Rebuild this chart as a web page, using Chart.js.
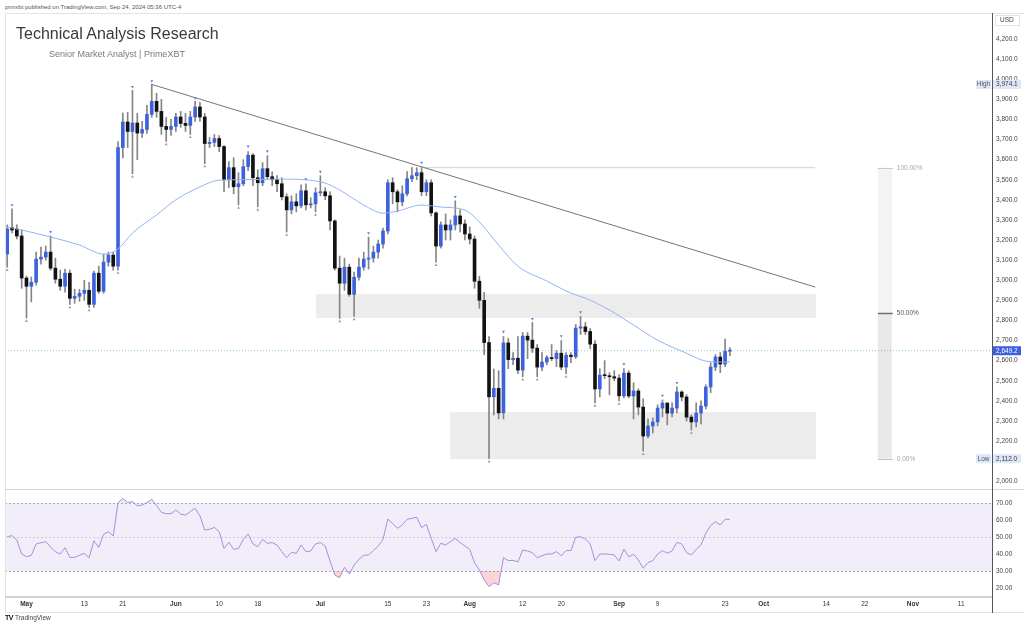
<!DOCTYPE html>
<html><head><meta charset="utf-8">
<script src="https://cdn.jsdelivr.net/npm/chart.js@4.4.1/dist/chart.umd.min.js"></script>
<style>
html,body{margin:0;padding:0;background:#fff;}
body{width:1024px;height:626px;position:relative;overflow:hidden;font-family:"Liberation Sans",Arial,sans-serif;}
.abs{position:absolute;white-space:nowrap;line-height:1;}
#pub{left:5px;top:4px;font-size:6px;color:#555;}
#title{left:16px;top:26px;font-size:16px;color:#3a3a3a;}
#sub{left:49px;top:50px;font-size:9px;color:#7a7a7a;}
#tv{left:5px;top:614px;font-size:6.5px;color:#444;}
#tv b{font-size:7px;color:#111;letter-spacing:-0.5px;margin-right:2px;}
.ln{position:absolute;background:#e0e3eb;}
canvas{position:absolute;}
</style></head>
<body>
<div class="abs" id="pub">prmxbt published on TradingView.com, Sep 24, 2024 05:36 UTC-4</div>
<canvas id="pc" width="1019" height="476" style="left:5px;top:13px"></canvas>
<canvas id="rc" width="1019" height="123" style="left:5px;top:490px"></canvas>
<div class="ln" style="left:5px;top:13px;width:1019px;height:1px"></div>
<div class="ln" style="left:5px;top:13px;width:1px;height:600px"></div>
<div class="ln" style="left:5px;top:489px;width:1019px;height:1px;background:#d6d6d6"></div>
<div class="ln" style="left:5px;top:596px;width:987px;height:2px;background:#cfd1d6"></div>
<div class="ln" style="left:5px;top:612px;width:1019px;height:1px"></div>
<div class="ln" style="left:992px;top:13px;width:1px;height:600px;background:#555"></div>
<div class="abs" id="title">Technical Analysis Research</div>
<div class="abs" id="sub">Senior Market Analyst | PrimeXBT</div>
<div class="abs" id="tv"><b>TV</b>TradingView</div>
<script>
// ---- data (day index: 0 = 26 Apr 2024; first candle = 27 Apr) ----
const firstIdx = 1;
const openV  = [3130,3262,3255,3220,3011,2970,2990,3105,3115,3140,3060,3005,2970,3035,2910,2920,2935,2950,2880,3035,2945,3090,3125,3070,3660,3787,3740,3782,3732,3750,3825,3890,3840,3765,3750,3765,3812,3780,3770,3812,3862,3812,3680,3686,3705,3665,3500,3560,3465,3480,3565,3622,3510,3485,3555,3515,3500,3480,3415,3350,3390,3370,3445,3375,3380,3435,3440,3420,3295,3060,2985,3065,2930,3015,3065,3105,3110,3140,3180,3245,3485,3440,3390,3430,3505,3520,3535,3440,3485,3335,3170,3275,3250,3275,3320,3280,3230,3205,2995,2900,2690,2420,2462,2340,2688,2605,2612,2553,2722,2702,2662,2568,2593,2615,2610,2637,2568,2627,2620,2762,2768,2745,2682,2459,2528,2525,2520,2513,2425,2538,2424,2449,2369,2225,2275,2295,2364,2389,2339,2364,2444,2419,2319,2295,2339,2374,2469,2568,2618,2583,2647];
const highV  = [3275,3355,3275,3250,3020,3016,3140,3165,3170,3220,3110,3050,3055,3050,2955,2955,3000,2990,3045,3070,3130,3140,3140,3690,3832,3835,3945,3830,3790,3870,3974.1,3930,3900,3810,3800,3830,3840,3830,3840,3890,3885,3830,3710,3725,3720,3670,3590,3610,3535,3600,3640,3630,3550,3585,3620,3540,3520,3510,3430,3420,3430,3475,3480,3410,3460,3520,3460,3440,3300,3120,3110,3080,3040,3110,3140,3215,3170,3200,3260,3500,3510,3450,3470,3540,3560,3560,3565,3500,3500,3340,3290,3330,3300,3395,3350,3300,3265,3220,3020,2940,2720,2558,2550,2720,2710,2640,2720,2740,2740,2790,2680,2640,2625,2680,2650,2700,2640,2640,2780,2820,2790,2760,2700,2560,2600,2540,2550,2530,2560,2550,2490,2460,2410,2310,2315,2380,2405,2390,2390,2470,2450,2430,2330,2390,2400,2480,2590,2630,2640,2707,2665];
const lowV   = [3065,3235,3205,2960,2812,2892,2975,3080,3100,3050,2985,2950,2940,2880,2885,2895,2900,2865,2865,2935,2935,3070,3050,3050,3608,3660,3530,3600,3710,3730,3810,3810,3725,3690,3720,3740,3760,3740,3725,3790,3790,3580,3660,3665,3640,3440,3460,3430,3375,3470,3545,3470,3365,3470,3500,3470,3440,3400,3240,3330,3340,3360,3350,3360,3340,3420,3400,3250,3050,2810,2950,2920,2820,3000,3050,3055,3090,3110,3160,3230,3380,3340,3370,3420,3490,3500,3420,3420,3320,3090,3160,3200,3200,3250,3240,3200,3180,2960,2860,2630,2112,2330,2310,2310,2560,2580,2535,2520,2610,2640,2520,2550,2580,2600,2570,2555,2535,2590,2610,2730,2730,2660,2390,2420,2510,2430,2500,2400,2415,2415,2310,2330,2150,2215,2240,2275,2320,2280,2320,2340,2400,2300,2255,2270,2285,2360,2440,2550,2540,2570,2625];
const closeV = [3255,3250,3220,3011,2970,2990,3105,3115,3140,3060,3005,2970,3035,2910,2920,2935,2950,2880,3035,2945,3090,3125,3070,3660,3787,3740,3782,3732,3750,3825,3890,3840,3765,3750,3765,3812,3780,3770,3812,3862,3812,3680,3686,3705,3665,3500,3560,3465,3480,3565,3622,3510,3485,3555,3515,3500,3480,3415,3350,3390,3370,3445,3375,3380,3435,3440,3420,3295,3060,2985,3065,2930,3015,3065,3105,3110,3140,3180,3245,3485,3440,3390,3430,3505,3520,3535,3440,3485,3335,3170,3275,3250,3275,3320,3280,3230,3205,2995,2900,2690,2420,2462,2340,2688,2605,2612,2553,2722,2702,2662,2568,2593,2615,2610,2637,2568,2627,2620,2762,2768,2745,2682,2459,2528,2525,2520,2513,2425,2538,2424,2449,2369,2225,2275,2295,2364,2389,2339,2364,2444,2419,2319,2295,2339,2374,2469,2568,2618,2583,2647,2649.2];
const rsiV = [50.2,50.8,48.2,40,38.4,39.2,45.9,46.6,47.3,44,41.4,40,43.7,38,38,39.2,40.4,37.8,47.8,43.9,51.6,53.1,50.6,70.2,72.7,70.4,70.8,68.4,68.8,70.2,72.2,68.4,64.5,63.7,63.7,65.9,63.5,62.9,64.9,66.9,62.5,54.1,54.5,55.7,53.1,43.3,46.9,42.7,43.3,48.6,51.8,45.9,44.3,48.6,46.3,46.7,45.3,41.4,37.8,41,40.4,45.3,41.4,41.8,45.9,46.7,44.7,35.9,27.6,26.1,32.2,28.2,33.5,36.9,39.2,39.4,42,44.7,48.6,60.6,58,55.1,57.1,60.4,61,61.6,55.5,57.5,49.2,41.4,46.3,45.3,47.3,49.2,46.7,44.7,42.7,34.9,30.6,24.7,20.8,23.1,21.8,37.8,36.1,36.3,35.3,42.4,41.8,40.8,37.8,39,40,40,41.4,39,42,42,49.8,50.2,48.8,45.9,36.1,40,40,39.8,39.4,35.9,42.9,38.4,39.8,36.5,31.6,34.9,36.1,40,42,40.4,41.8,46.9,45.9,40.8,39.4,42.7,45.3,52.2,56.7,59,57.1,60.4,60.4];
const maIdx = [1,4,10,16,21,24,27,32,36,41,45,49,58,67,70,75,79,82,87,91,96,99,103,107,113,118,121,126,131,136,142,146,150,151];
const maVal = [3265,3250,3215,3175,3130,3155,3235,3325,3400,3464,3498,3500,3503,3483,3449,3374,3334,3344,3374,3364,3349,3290,3175,3070,2996,2936,2911,2852,2777,2702,2637,2598,2593,2595];
const pivHighIdx = [2,10,27,31,40,51,55,63,66,76,87,94,104,110,116,120,129,137,140];
const pivHighVal = [3374,3241,3962,3991,3906,3666,3642,3503,3540,3235,3585,3415,2744,2808,2722,2842,2583,2426,2490];
const pivLowIdx = [1,5,14,18,24,27,34,39,42,49,53,59,65,70,73,90,101,108,111,117,123,128,133,143];
const pivLowVal = [3050,2797,2865,2850,3036,3515,3676,3712,3566,3360,3350,3225,3325,2795,2805,3075,2097,2505,2505,2520,2375,2385,2135,2240];
const trendIdx = [31,168.7];
const trendVal = [3974.1,2966];
const fibIdx = [86.7,168.7];      // 100% level drawn line
const fibLevels = [3560,2836,2112]; // 100%, 50%, 0%
const fibLabels = ['100.00%','50.00%','0.00%'];
const fibBarIdx = [181.7,184.6];
const zones = [[65.1,168.9,2812,2931],[92.9,168.9,2110,2344]];
const lastPrice = 2649.2, highPrice = 3974.1, lowPrice = 2112.0;
const priceTicks = [2000,2200,2300,2400,2500,2600,2700,2800,2900,3000,3100,3200,3300,3400,3500,3600,3700,3800,3900,4000,4100,4200];
const rsiTicks = [20,30,40,50,60,70];
const tickIdx = [5,17,25,36,45,53,66,80,88,97,108,116,128,136,150,158,171,179,189,199];
const tickLbl = ['May','13','21','Jun','10','18','Jul','15','23','Aug','12','20','Sep','9','23','Oct','14','22','Nov','11'];

// ---- config ----
const FONT = '"Liberation Sans", Arial, sans-serif';
const UP = '#3d62df', DOWN = '#121212', WICK = '#858585';
const X_MIN = 0.54, X_MAX = 205.4;
const P_MIN = 1961.4, P_MAX = 4329.4;
const R_MIN = 15.3, R_MAX = 77.65;
const fmt = v => { const s = Number(v).toFixed(1).split('.'); return s[0].replace(/\B(?=(\d{3})+(?!\d))/g, ',') + '.' + s[1]; };

const bodies = openV.map((o,i)=>({x:firstIdx+i, y:[o, closeV[i]]}));
const wicks = openV.map((o,i)=>({x:firstIdx+i, y:[lowV[i], highV[i]]}));
const bodyCol = openV.map((o,i)=> closeV[i] >= o ? UP : DOWN);
const pts = (xs, ys) => xs.map((x,i)=>({x, y:ys[i]}));

const zonePlugin = {
  id:'zones',
  beforeDatasetsDraw(chart){
    const {ctx, scales:{x,y}} = chart;
    ctx.save();
    ctx.fillStyle = 'rgba(0,0,0,0.075)';
    zones.forEach(z=>{
      const x1=x.getPixelForValue(z[0]), x2=x.getPixelForValue(z[1]);
      const y1=y.getPixelForValue(z[3]), y2=y.getPixelForValue(z[2]);
      ctx.fillRect(x1,y1,x2-x1,y2-y1);
    });
    const bx1=x.getPixelForValue(fibBarIdx[0]), bx2=x.getPixelForValue(fibBarIdx[1]);
    const yt=y.getPixelForValue(fibLevels[0]), ym=y.getPixelForValue(fibLevels[1]), yb=y.getPixelForValue(fibLevels[2]);
    ctx.fillStyle='#f2f3f5'; ctx.fillRect(bx1,yt,bx2-bx1,ym-yt);
    ctx.fillStyle='#e9e9ea'; ctx.fillRect(bx1,ym,bx2-bx1,yb-ym);
    const lc=['#c8c8c8','#707070','#c4c4c4'];
    fibLevels.forEach((lv,i)=>{
      const yy=Math.round(y.getPixelForValue(lv))+0.5;
      ctx.strokeStyle=lc[i]; ctx.lineWidth=i===1?1.5:1;
      ctx.beginPath(); ctx.moveTo(bx1,yy); ctx.lineTo(bx2+1,yy); ctx.stroke();
      ctx.fillStyle=i===1?'#555':'#a8a8a8';
      ctx.font='6.5px '+FONT; ctx.textAlign='left'; ctx.textBaseline='middle';
      ctx.fillText(fibLabels[i], bx2+5, yy);
    });
    ctx.restore();
  },
  afterDraw(chart){
    const {ctx, scales:{y}} = chart;
    const ax = y.left;
    ctx.save();
    ctx.font='6.5px '+FONT; ctx.textBaseline='middle';
    ctx.fillStyle='#fff'; ctx.strokeStyle='#e3e3e3'; ctx.lineWidth=1;
    ctx.fillRect(ax+3.5,2.5,24,10); ctx.strokeRect(ax+3.5,2.5,24,10);
    ctx.fillStyle='#444'; ctx.textAlign='left'; ctx.fillText('USD', ax+8, 7.5);
    const tag=(val, bg, fg, side)=>{
      const yy=y.getPixelForValue(val);
      ctx.fillStyle=bg; ctx.fillRect(ax+1,yy-4.5,28,9);
      ctx.fillStyle=fg; ctx.textAlign='left'; ctx.fillText(fmt(val), ax+4, yy);
      if(side){
        ctx.fillStyle=bg; ctx.fillRect(ax-16,yy-4.5,15,9);
        ctx.fillStyle='#555'; ctx.textAlign='center'; ctx.fillText(side, ax-8.5, yy);
      }
    };
    tag(highPrice,'#dde7f8','#3b3b3b','High');
    tag(lowPrice,'#dde7f8','#3b3b3b','Low');
    tag(lastPrice,'#3d5fe0','#ffffff',null);
    ctx.restore();
  }
};

new Chart(document.getElementById('pc'), {
  type:'bar',
  data:{datasets:[
    {type:'line', data:pts(pivHighIdx,pivHighVal), showLine:false, pointRadius:1.7, pointStyle:'triangle', rotation:180, pointBackgroundColor:'#5a7fe8', pointBorderWidth:0, order:0},
    {type:'line', data:pts(pivLowIdx,pivLowVal), showLine:false, pointRadius:1.7, pointStyle:'triangle', pointBackgroundColor:'#9a9a9a', pointBorderWidth:0, order:0},
    {type:'line', data:pts(trendIdx,trendVal), borderColor:'#747474', borderWidth:1, pointRadius:0, order:1},
    {type:'line', data:pts(fibIdx,[fibLevels[0],fibLevels[0]]), borderColor:'#d2d2d2', borderWidth:1, pointRadius:0, order:1},
    {type:'line', data:pts(maIdx,maVal), borderColor:'#93b2f6', borderWidth:1, pointRadius:0, cubicInterpolationMode:'monotone', order:2},
    {type:'bar', data:bodies, backgroundColor:bodyCol, barThickness:3, grouped:false, minBarLength:1, order:3},
    {type:'bar', data:wicks, backgroundColor:WICK, barThickness:1, grouped:false, order:4},
    {type:'line', data:pts([X_MIN,X_MAX],[lastPrice,lastPrice]), borderColor:'rgba(38,166,154,0.55)', borderWidth:1, borderDash:[1,2], pointRadius:0, order:5}
  ]},
  options:{
    responsive:false, animation:false, events:[], layout:{padding:0, autoPadding:false},
    plugins:{legend:{display:false}, tooltip:{enabled:false}},
    scales:{
      x:{type:'linear', min:X_MIN, max:X_MAX, display:false, offset:false},
      y:{type:'linear', position:'right', min:P_MIN, max:P_MAX,
         grid:{display:false, drawTicks:false}, border:{display:false},
         afterBuildTicks:s=>{s.ticks = priceTicks.map(v=>({value:v}));},
         afterFit:s=>{s.width=32; s.paddingTop=0; s.paddingBottom=0;},
         ticks:{padding:4, font:{size:6.5, family:FONT}, color:'#444', callback:v=>fmt(v)}}
    }
  },
  plugins:[zonePlugin]
});

const rsiBand = {
  id:'rsiBand',
  beforeDatasetsDraw(chart){
    const {ctx, chartArea:a, scales:{y}} = chart;
    const y70=y.getPixelForValue(70), y30=y.getPixelForValue(30), y50=y.getPixelForValue(50);
    ctx.save();
    ctx.fillStyle='rgba(126,87,194,0.1)';
    ctx.fillRect(a.left, y70, a.right-a.left, y30-y70);
    ctx.setLineDash([2,2]); ctx.lineWidth=1;
    [[y70,'#a9a9b3'],[y50,'#cfcadb'],[y30,'#a9a9b3']].forEach(([yy,c])=>{
      ctx.strokeStyle=c; ctx.beginPath(); ctx.moveTo(a.left, Math.round(yy)+0.5); ctx.lineTo(a.right, Math.round(yy)+0.5); ctx.stroke();
    });
    ctx.restore();
  }
};

const rsiPts = rsiV.map((v,i)=>({x:firstIdx+i, y:v}));
new Chart(document.getElementById('rc'), {
  type:'line',
  data:{datasets:[
    {data:rsiPts, borderColor:'#a48fdd', borderWidth:1, pointRadius:0, tension:0,
     fill:{target:{value:30}, above:'rgba(0,0,0,0)', below:'rgba(242,54,69,0.22)'}},
    {data:rsiPts, borderWidth:0, borderColor:'rgba(0,0,0,0)', pointRadius:0, tension:0,
     fill:{target:{value:70}, above:'rgba(8,153,129,0.12)', below:'rgba(0,0,0,0)'}}
  ]},
  options:{
    responsive:false, animation:false, events:[], layout:{padding:0, autoPadding:false},
    plugins:{legend:{display:false}, tooltip:{enabled:false}},
    scales:{
      x:{type:'linear', position:'bottom', min:X_MIN, max:X_MAX, offset:false,
         grid:{display:false, drawTicks:false}, border:{display:false},
         afterBuildTicks:s=>{s.ticks = tickIdx.map(v=>({value:v}));},
         afterFit:s=>{s.height=17; s.paddingLeft=0; s.paddingRight=0;},
         ticks:{padding:4, autoSkip:false, maxRotation:0, color:'#333',
           font:(c)=>({size:6.5, family:FONT, weight:/^[A-Z]/.test(tickLbl[c.index]||'')?'bold':'normal'}),
           callback:(v,i)=>tickLbl[i]}},
      y:{type:'linear', position:'right', min:R_MIN, max:R_MAX,
         grid:{display:false, drawTicks:false}, border:{display:false},
         afterBuildTicks:s=>{s.ticks = rsiTicks.map(v=>({value:v}));},
         afterFit:s=>{s.width=32; s.paddingTop=0; s.paddingBottom=0;},
         ticks:{padding:4, font:{size:6.5, family:FONT}, color:'#444', callback:v=>Number(v).toFixed(2)}}
    }
  },
  plugins:[rsiBand]
});
</script>
</body></html>
